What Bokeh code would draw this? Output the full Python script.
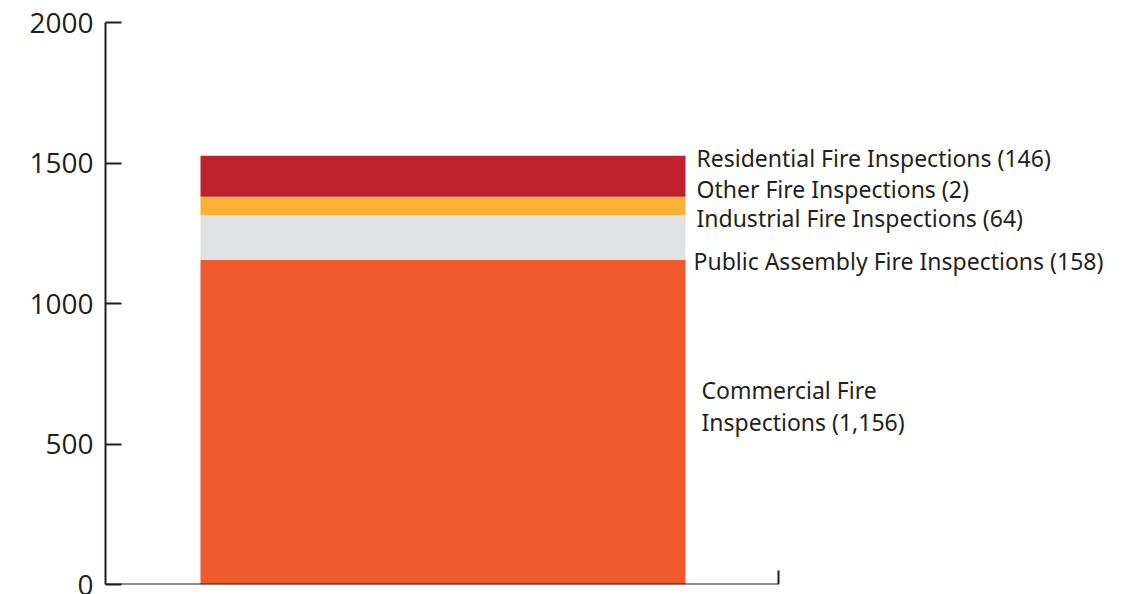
from bokeh.plotting import figure
from bokeh.models import Range1d, FixedTicker, ColumnDataSource
from bokeh.core.properties import value
from bokeh.embed import file_html
from bokeh.resources import INLINE

# ---- data ----
categories = ["Commercial", "Public Assembly", "Industrial", "Other", "Residential"]
counts = [1156, 158, 64, 2, 146]
labels = ["Commercial Fire\nInspections (1,156)",
          "Public Assembly Fire Inspections (158)",
          "Industrial Fire Inspections (64)",
          "Other Fire Inspections (2)",
          "Residential Fire Inspections (146)"]
colors = ["#F0592E", "#E1E2E4", "#FAB234", "#FAB234", "#C1202F"]
y_ticks = [0, 500, 1000, 1500, 2000]

# ---- layout ----
W, H = 1128, 594
frame_left, frame_top, frame_bottom_border = 105, 22, 10
bar_px = 485.0
bar_left_px = 95.0          # from frame left to bar left
axis_end_px = 673.0         # length of x axis line
frame_w = W - frame_left
x0 = 0.5 - (bar_left_px + bar_px / 2) / bar_px
x1 = x0 + frame_w / bar_px
x_axis_end = x0 + axis_end_px / bar_px
frame_h = H - frame_top - frame_bottom_border
px_per_unit = frame_h / 2000.0

bottoms, tops = [], []
acc = 0
for c in counts:
    bottoms.append(acc)
    acc += c
    tops.append(acc)

p = figure(width=W, height=H, output_backend="svg", toolbar_location=None,
           x_range=Range1d(x0, x1), y_range=Range1d(0, 2000),
           x_axis_location=None, min_border_left=frame_left,
           min_border_top=frame_top, min_border_bottom=frame_bottom_border,
           min_border_right=0)
p.outline_line_color = None
p.grid.visible = False
p.background_fill_color = "white"

src = ColumnDataSource(dict(x=[0.5] * len(counts), bottom=bottoms, top=tops,
                            color=colors))
p.vbar(x="x", width=1.0, bottom="bottom", top="top", fill_color="color",
       line_color=None, source=src)

# labels anchored to stack boundaries
total = tops[-1]
lab_y = [bottoms[0] + counts[0] / 2, bottoms[1], bottoms[2], total, total]
lab_off_y = [-16, 1, 3, 33, 2]
lab_off_x = [16, 8, 11, 11, 11]
lsrc = ColumnDataSource(dict(x=[1.0] * len(labels), y=lab_y, text=labels,
                             xo=lab_off_x, yo=lab_off_y))
p.text(x="x", y="y", text="text", x_offset="xo", y_offset="yo", source=lsrc,
       text_font=value("Noto Sans"), text_font_size="23px",
       text_color="#231F20", text_baseline="middle", text_align="left",
       text_line_height=1.0)

# x axis line with end tick
p.segment(x0=[x0], y0=[0], x1=[x_axis_end], y1=[0], line_color="#231F20",
          line_width=2)
p.segment(x0=[x_axis_end], y0=[0], x1=[x_axis_end], y1=[14 / px_per_unit],
          line_color="#231F20", line_width=2)

ax = p.yaxis[0]
ax.ticker = FixedTicker(ticks=y_ticks)
ax.minor_tick_line_color = None
ax.major_tick_in = 16
ax.major_tick_out = 0
ax.major_tick_line_width = 2
ax.major_tick_line_color = "#231F20"
ax.axis_line_width = 2
ax.axis_line_color = "#231F20"
ax.major_label_text_font = "Open Sans"
ax.major_label_text_font_size = "28px"
ax.major_label_text_color = "#231F20"
ax.major_label_standoff = 12

open("out.html", "w").write(file_html(p, INLINE))
